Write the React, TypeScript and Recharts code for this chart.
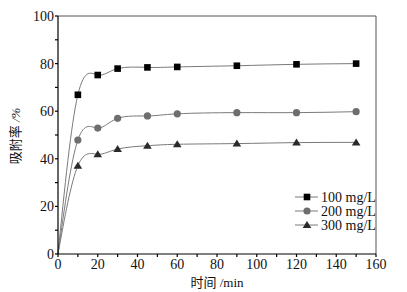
import { Line, LineChart, ReferenceLine, XAxis, YAxis } from 'recharts';

const times = [0, 10, 20, 30, 45, 60, 90, 120, 150];
const c100 = [0, 66.9, 75.2, 77.9, 78.4, 78.6, 79.1, 79.7, 80.0];
const c200 = [0, 47.9, 52.9, 57.0, 58.0, 58.9, 59.4, 59.4, 59.8];
const c300 = [0, 37.1, 41.9, 44.1, 45.5, 46.1, 46.4, 46.8, 46.9];
const seriesNames = ['100 mg/L', '200 mg/L', '300 mg/L'];
const xTicks = [0, 10, 20, 30, 40, 50, 60, 70, 80, 90, 100, 110, 120, 130, 140, 150, 160];
const yTicks = [0, 10, 20, 30, 40, 50, 60, 70, 80, 90, 100];

const data = times.map((t, i) => ({ t, a: c100[i], b: c200[i], c: c300[i] }));

const serif = '"Liberation Serif", "Noto Sans CJK SC", serif';
const lineColor = '#7a7a7a';

type Kind = 'square' | 'circle' | 'triangle';

function Marker({ kind, cx, cy }: { kind: Kind; cx: number; cy: number }) {
  if (kind === 'square') return <rect x={cx - 3.3} y={cy - 3.3} width={6.6} height={6.6} fill="#000" />;
  if (kind === 'circle') return <circle cx={cx} cy={cy} r={3.6} fill="#6e6e6e" />;
  return <path d={`M${cx},${cy - 4} L${cx + 4.3},${cy + 3} L${cx - 4.3},${cy + 3} Z`} fill="#2a2a2a" />;
}

const dotFor = (kind: Kind) => (p: any) => {
  if (p.index === 0) return <g key={p.key} />;
  return <Marker key={p.key} kind={kind} cx={p.cx} cy={p.cy} />;
};

const kinds: Kind[] = ['square', 'circle', 'triangle'];

function LegendBox() {
  return (
    <svg width={100} height={46} style={{ position: 'absolute', left: 295, top: 189 }}>
      {seriesNames.map((name, i) => {
        const y = 8 + i * 14;
        return (
          <g key={name}>
            <line x1={0} x2={23} y1={y} y2={y} stroke={lineColor} strokeWidth={1} />
            <Marker kind={kinds[i]} cx={12} cy={y} />
            <text x={26} y={y + 4.5} fontSize={14} fontFamily={serif} fill="#111">
              {name}
            </text>
          </g>
        );
      })}
    </svg>
  );
}

function YTitle() {
  return (
    <text
      x={15}
      y={136}
      transform="rotate(-90 15 136)"
      textAnchor="middle"
      dominantBaseline="central"
      fontSize={13}
      fontFamily={serif}
      fill="#111"
    >
      吸附率 <tspan fontStyle="italic">/%</tspan>
    </text>
  );
}

export default function App() {
  return (
    <div style={{ position: 'absolute', left: 0, top: 0, width: 407, height: 292, background: '#fff' }}>
      <LineChart width={407} height={292} data={data} margin={{ top: 16, right: 31, left: 18, bottom: 8 }}>
        <XAxis
          dataKey="t"
          type="number"
          domain={[0, 160]}
          ticks={xTicks}
          interval={0}
          tickFormatter={(v: number) => (v % 20 === 0 ? String(v) : '')}
          height={30}
          tickSize={3}
          tickMargin={2}
          stroke="#000"
          strokeWidth={1.2}
          tick={{ fill: '#111', fontSize: 14, fontFamily: serif }}
          label={{ value: '时间 /min', position: 'insideBottom', offset: -3, fill: '#111', fontSize: 13, fontFamily: serif }}
        />
        <YAxis
          type="number"
          domain={[0, 100]}
          ticks={yTicks}
          interval={0}
          tickFormatter={(v: number) => (v % 20 === 0 ? String(v) : '')}
          width={40}
          tickSize={3}
          tickMargin={1}
          stroke="#000"
          strokeWidth={1.2}
          tick={{ fill: '#111', fontSize: 14, fontFamily: serif }}
          label={<YTitle />}
        />
        <ReferenceLine y={100} stroke="#555" strokeWidth={1} />
        <ReferenceLine x={160} stroke="#555" strokeWidth={1} />
        <Line type="natural" dataKey="a" stroke={lineColor} strokeWidth={1} dot={dotFor('square')} isAnimationActive={false} />
        <Line type="natural" dataKey="b" stroke={lineColor} strokeWidth={1} dot={dotFor('circle')} isAnimationActive={false} />
        <Line type="natural" dataKey="c" stroke={lineColor} strokeWidth={1} dot={dotFor('triangle')} isAnimationActive={false} />
      </LineChart>
      <LegendBox />
    </div>
  );
}
